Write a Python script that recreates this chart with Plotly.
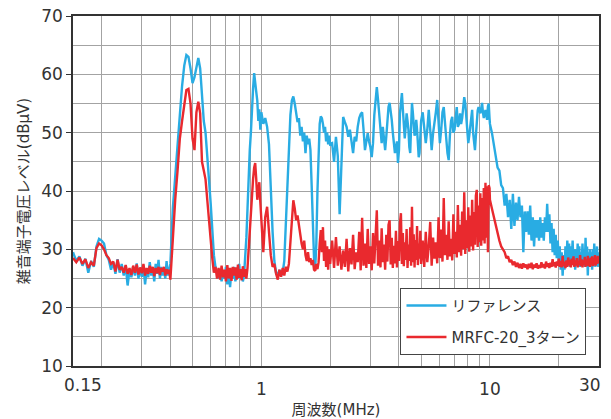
import math
import plotly.graph_objects as go

# ---------------- data (frequency in MHz, level in dBuV) ----------------
freq_a = [0.150, 0.155, 0.160, 0.165, 0.170, 0.175, 0.180, 0.185, 0.190, 0.195,
          0.200, 0.205, 0.210, 0.215, 0.220, 0.225, 0.230, 0.235, 0.240, 0.245,
          0.250, 0.255, 0.260, 0.265, 0.270, 0.275, 0.280, 0.285, 0.290, 0.295,
          0.300, 0.305, 0.310, 0.315, 0.320, 0.325, 0.330, 0.335, 0.340, 0.345,
          0.350, 0.355, 0.360, 0.365, 0.370, 0.375, 0.380, 0.385, 0.390, 0.395,
          0.400]
freq_b = [0.41, 0.42, 0.43, 0.44, 0.45, 0.46, 0.47, 0.48, 0.49, 0.50,
          0.51, 0.52, 0.53, 0.54, 0.55, 0.56, 0.57, 0.58, 0.59, 0.60,
          0.61, 0.62, 0.63, 0.64, 0.65, 0.66, 0.67, 0.68, 0.69, 0.70,
          0.71, 0.72, 0.73, 0.74, 0.75, 0.76, 0.77, 0.78, 0.79, 0.80,
          0.81, 0.82, 0.83, 0.84, 0.85, 0.86, 0.87, 0.88, 0.89, 0.90,
          0.91, 0.92, 0.93, 0.94, 0.95, 0.96, 0.97, 0.98, 0.99, 1.00]
freq_c = [1.02, 1.04, 1.06, 1.08, 1.10, 1.12, 1.14, 1.16, 1.18, 1.20,
          1.22, 1.24, 1.26, 1.28, 1.30, 1.32, 1.34, 1.36, 1.38, 1.40,
          1.42, 1.44, 1.46, 1.48, 1.50, 1.52, 1.54, 1.56, 1.58, 1.60,
          1.62, 1.64, 1.66, 1.68, 1.70, 1.72, 1.74, 1.76, 1.78, 1.80,
          1.82, 1.84, 1.86, 1.88, 1.90, 1.92, 1.94, 1.96, 1.98, 2.00]
freq_d = [2.04, 2.08, 2.12, 2.16, 2.20, 2.24, 2.28, 2.32, 2.36, 2.40,
          2.44, 2.48, 2.52, 2.56, 2.60, 2.64, 2.68, 2.72, 2.76, 2.80,
          2.84, 2.88, 2.92, 2.96, 3.00, 3.04, 3.08, 3.12, 3.16, 3.20,
          3.24, 3.28, 3.32, 3.36, 3.40, 3.44, 3.48, 3.52, 3.56, 3.60,
          3.64, 3.68, 3.72, 3.76, 3.80, 3.84, 3.88, 3.92, 3.96, 4.00,
          4.04, 4.08, 4.12, 4.16, 4.20, 4.24, 4.28, 4.32, 4.36, 4.40,
          4.44, 4.48, 4.52, 4.56, 4.60, 4.64, 4.68, 4.72, 4.76, 4.80,
          4.84, 4.88, 4.92, 4.96, 5.00]
freq_e = [5.08, 5.16, 5.24, 5.32, 5.40, 5.48, 5.56, 5.64, 5.72, 5.80,
          5.88, 5.96, 6.04, 6.12, 6.20, 6.28, 6.36, 6.44, 6.52, 6.60,
          6.68, 6.76, 6.84, 6.92, 7.00, 7.08, 7.16, 7.24, 7.32, 7.40,
          7.48, 7.56, 7.64, 7.72, 7.80, 7.88, 7.96, 8.04, 8.12, 8.20,
          8.28, 8.36, 8.44, 8.52, 8.60, 8.68, 8.76, 8.84, 8.92, 9.00,
          9.08, 9.16, 9.24, 9.32, 9.40, 9.48, 9.56, 9.64, 9.72, 9.80,
          9.88, 9.96, 10.0]
freq_f = [10.2, 10.4, 10.6, 10.8, 11.0, 11.2, 11.4, 11.6, 11.8, 12.0,
          12.2, 12.4, 12.6, 12.8, 13.0, 13.2, 13.4, 13.6, 13.8, 14.0,
          14.2, 14.4, 14.6, 14.8, 15.0, 15.2, 15.4, 15.6, 15.8, 16.0,
          16.2, 16.4, 16.6, 16.8, 17.0, 17.2, 17.4, 17.6, 17.8, 18.0,
          18.2, 18.4, 18.6, 18.8, 19.0, 19.2, 19.4, 19.6, 19.8, 20.0,
          20.2, 20.4, 20.6, 20.8, 21.0, 21.2, 21.4, 21.6, 21.8, 22.0,
          22.2, 22.4, 22.6, 22.8, 23.0, 23.2, 23.4, 23.6, 23.8, 24.0,
          24.2, 24.4, 24.6, 24.8, 25.0, 25.2, 25.4, 25.6, 25.8, 26.0,
          26.2, 26.4, 26.6, 26.8, 27.0, 27.2, 27.4, 27.6, 27.8, 28.0,
          28.2, 28.4, 28.6, 28.8, 29.0, 29.2, 29.4, 29.6, 29.8, 30.0]

# Reference (blue)
ref_a = [29.5, 28.0, 28.8, 27.2, 28.4, 26.0, 28.0, 27.0, 30.5, 31.8,
         31.5, 31.0, 29.0, 28.2, 26.5, 27.8, 25.8, 28.3, 26.0, 27.5,
         25.5, 27.2, 23.8, 26.5, 25.2, 27.0, 25.5, 27.6, 25.0, 26.8,
         25.3, 27.2, 24.0, 26.5, 25.2, 27.8, 25.5, 26.8, 24.5, 27.5,
         25.8, 28.2, 25.0, 27.0, 25.5, 26.8, 25.0, 28.0, 25.5, 26.8,
         27.5]
ref_b = [37, 43, 49, 53, 58, 61.5, 63.3, 63, 61, 58.5,
         59.5, 61, 62.8, 61, 57, 52, 50, 46.5, 42, 38,
         33, 29, 27, 26, 25, 26.5, 24.5, 26, 25, 27,
         24, 26, 23.5, 26.5, 25, 27, 24.5, 26, 25, 27.5,
         25, 26, 24.5, 25.5, 28.5, 32, 37, 43, 47, 50,
         54.5, 57.5, 60.2, 59, 57, 55.5, 52, 54, 50.5, 53.5]
ref_c = [51.5, 52.5, 51, 48, 40, 33, 28, 26, 25.5, 26.5,
         25.5, 26, 28, 34, 41, 48, 53, 55.5, 56.2, 55,
         52.8, 51.8, 52.5, 49.5, 51, 48.5, 50, 46.5, 49.5, 48,
         49, 47, 41, 34, 28.5, 26.5, 31, 40, 47, 51.5,
         52.8, 52.5, 51.5, 50, 51, 48.5, 50, 48, 49.5, 48]
ref_d = [48.2, 45, 49.3, 46, 36, 44, 52.7, 51.8, 51, 49.3,
         50.5, 48.5, 46.5, 49.3, 48.5, 51, 52.5, 53.2, 53.5, 50.5,
         47, 48.5, 49.9, 48.5, 47.5, 45.8, 48.2, 53, 56, 57.8,
         55.6, 53.5, 51.5, 48.2, 51, 48.5, 47, 49.3, 52, 54.4,
         55.1, 54, 52.2, 50, 48.7, 46.5, 47.5, 48.5, 44.8, 47,
         53.3, 55.5, 56.8, 54, 51, 49, 51, 53.3, 52, 50.5,
         47.5, 46.5, 51, 55.1, 53.5, 51.5, 49.5, 50, 52.2, 50.5,
         47, 45.8, 46.5, 48.5, 52]
ref_e = [53.5, 50.5, 48.2, 50.5, 53.9, 50.5, 47, 49.9, 51.5, 53.5,
         55.6, 52.5, 48.2, 50.5, 53.5, 54.4, 51, 49, 46.5, 45.3,
         49.5, 52, 52.7, 50, 50.5, 52.5, 54.4, 51, 51.5, 53.3,
         51.5, 52.5, 55, 56.1, 55, 52.5, 50, 48.2, 49.5, 51,
         53, 53.9, 50, 48.2, 47, 49.5, 52.2, 53.8, 54.4, 53.8,
         53.3, 54.2, 55.1, 53.5, 52.5, 53.2, 53.9, 53, 52.2, 54.5,
         55, 52.5, 51.5]
ref_f = [50, 48, 46.5, 44, 43.5, 41, 40.5, 37.5, 39.5, 35.5,
         38.5, 33.5, 39.5, 34, 38, 35, 39, 35.5, 37.5, 29.5,
         36.5, 33, 36.5, 32.5, 37.5, 31.5, 35.5, 30.5, 35, 32,
         35, 31.5, 35.5, 32, 34.5, 31.5, 35.5, 33, 37.8, 33,
         36, 31, 34.5, 29.5, 33.5, 29, 32.5, 28.5, 31.5, 28,
         30.5, 26.5, 29.5, 25.5, 29, 26.5, 30.5, 27, 31.5, 27.5,
         31, 27, 30.5, 28, 31.5, 27.5, 30, 26.5, 30, 27.5,
         31, 28, 30.5, 27, 29.5, 27.5, 31, 28, 30, 27,
         32, 28, 30.5, 25.5, 29.5, 27.5, 30, 27, 29.5, 26.5,
         30, 27.5, 31, 27, 29.5, 27.5, 30.5, 27, 29.5, 28.5]

# MRFC-20_3 turns (red)
mrfc_a = [28.5, 27.8, 28.6, 27.5, 28.3, 26.8, 27.8, 27.2, 30.2, 31.0,
          30.7, 30.0, 29.0, 28.5, 27.5, 27.9, 26.2, 28.2, 26.5, 27.0,
          26.0, 27.3, 25.8, 26.8, 25.6, 27.2, 26.0, 27.4, 25.7, 26.9,
          25.9, 27.5, 25.5, 26.8, 25.8, 27.2, 26.0, 27.0, 25.4, 26.8,
          25.9, 27.0, 25.6, 26.8, 26.2, 27.0, 25.5, 26.6, 25.8, 26.5,
          24.8]
mrfc_b = [32.5, 38.5, 43.5, 49, 52, 54.5, 57.3, 57.5, 55, 49,
          47, 53.5, 55.3, 53.3, 45, 43.5, 42, 38.5, 35, 31,
          28.5, 26, 27, 25, 26.8, 24.8, 27.2, 25.2, 26.5, 24.5,
          27.3, 25, 26.8, 24.6, 27, 25.5, 26.9, 24.8, 27.4, 25.1,
          26.6, 24.7, 27.1, 25.3, 26.6, 25, 26.8, 30, 33.5, 37,
          40.5, 42, 44, 44.8, 42, 38.5, 40, 41.5, 38, 35]
mrfc_c = [29.5, 35.5, 37.3, 33, 29, 27, 27.5, 25.8, 24.8, 26.5,
          25.3, 26.8, 25.5, 27, 26.2, 27.5, 31, 35.5, 38.4, 37,
          35, 35.8, 34, 32.5, 31, 30, 31.5, 29, 28, 29.5,
          27.8, 28.5, 27.3, 28.2, 26.5, 26.3, 27.5, 26.6, 27.8, 31,
          33.3, 29.5, 33.8, 28, 31.5, 27, 30.5, 26.5, 30, 27.5]
mrfc_d = [31.5, 26.8, 32.1, 27.2, 30.5, 26.5, 29.8, 27, 31.8, 26.2,
          30.2, 27.4, 32.5, 26.6, 29.5, 27.8, 33, 26.4, 35.4, 27.2,
          31, 26.8, 33.5, 27.5, 30.5, 26.4, 32.8, 27.6, 34, 36.7,
          27.2, 31.5, 26.9, 33.6, 27.8, 30.8, 26.5, 32.5, 27.9, 34.2,
          35, 27.4, 32, 26.8, 30.6, 27.6, 33.2, 26.9, 31.4, 28,
          34.5, 36.2, 27.5, 32.8, 27.1, 31.2, 28.2, 33.5, 26.8, 30.8,
          28, 33.8, 27.2, 37.3, 27.8, 32.6, 26.9, 31.6, 28.2, 34,
          27.3, 31, 28.4, 33.2, 27.5]
mrfc_e = [31.5, 27, 33, 27.8, 30.5, 34.7, 27.2, 32, 28.4, 31.2,
          27.6, 35.5, 28.5, 33.4, 27.9, 38.8, 29, 32.5, 28.2, 34.8,
          28.8, 31.8, 28.1, 36, 29.2, 33, 28.6, 37.6, 29.5, 34.2,
          28.9, 36.5, 30, 39.8, 29.2, 35, 30.2, 37.2, 29.6, 35.8,
          30.5, 38.5, 29.8, 36.4, 30.8, 39.2, 40.2, 30.4, 37.5, 31.2,
          39.6, 30.6, 38.8, 31.5, 40.5, 31, 41.4, 32, 40.8, 29.5,
          41, 40.5, 38.5]
mrfc_f = [37, 35.5, 34.5, 33, 31.5, 30.5, 30, 29.5, 28.5, 28.8,
          27.8, 28.2, 27.3, 27.9, 27, 27.7, 26.8, 27.5, 26.7, 27.6,
          26.9, 27.4, 26.6, 27.5, 26.8, 27.7, 26.6, 27.4, 26.9, 27.6,
          26.7, 27.3, 26.8, 27.8, 26.9, 27.5, 26.7, 27.9, 27, 27.6,
          26.8, 27.7, 27, 28.3, 27.1, 27.8, 26.9, 27.9, 27.2, 28.4,
          27, 28, 26.9, 28.9, 27.1, 27.9, 26.8, 28.1, 27, 28.6,
          27.2, 28.2, 26.9, 28.4, 27.3, 28.8, 27, 28.1, 27.2, 28.5,
          26.9, 28, 27.3, 29, 27.1, 28.3, 26.9, 28.1, 27.4, 28.7,
          27, 28.3, 27.2, 28.9, 27.1, 28.4, 27, 28.6, 27.3, 28.8,
          27.1, 28.5, 27.4, 29, 27.2, 28.6, 27.5, 28.9, 27.6, 28.2]

x_tick_vals = [1, 10]
x_tick_text = ["1", "10"]
x_edge_vals = [0.15, 30]
x_edge_text = ["0.15", "30"]
x_minor_vals = [0.2, 0.3, 0.4, 0.5, 0.6, 0.7, 0.8, 0.9,
                2, 3, 4, 5, 6, 7, 8, 9, 20]
y_tick_vals = [10, 20, 30, 40, 50, 60, 70]

series_names = ["リファレンス", "MRFC-20_3ターン"]
series_colors = ["#29ACE3", "#E9292E"]

freq = freq_a + freq_b + freq_c + freq_d + freq_e + freq_f
ref = ref_a + ref_b + ref_c + ref_d + ref_e + ref_f
mrfc = mrfc_a + mrfc_b + mrfc_c + mrfc_d + mrfc_e + mrfc_f

FONT = "DejaVu Sans, Noto Sans CJK JP, sans-serif"
GRID = "#a3a3a3"
AXIS = "#333333"
TXT = "#333333"

fig = go.Figure()
for name, col, ys, grp in [(series_names[0], series_colors[0], ref, "a"),
                           (series_names[1], series_colors[1], mrfc, "b")]:
    fig.add_trace(go.Scatter(x=freq, y=ys, mode="lines", name=name,
                             legendgroup=grp,
                             line=dict(color=col, width=2.4)))

# end labels of the frequency axis sit inward of the frame, as in the reference
for v, t, anchor, shift in [(x_edge_vals[0], x_edge_text[0], "left", -11),
                            (x_edge_vals[1], x_edge_text[1], "right", 4)]:
    fig.add_annotation(x=math.log10(v), xref="x", y=0, yref="paper",
                       text=t, showarrow=False, xanchor=anchor, yanchor="middle",
                       xshift=shift, yshift=-19,
                       font=dict(size=17, family=FONT, color=TXT))

fig.update_layout(
    width=611, height=419,
    margin=dict(l=73, r=12, t=16, b=53, autoexpand=False),
    paper_bgcolor="white", plot_bgcolor="white",
    font=dict(family=FONT, color=TXT),
    showlegend=True,
    legend=dict(x=0.622, y=0.223, xanchor="left", yanchor="top",
                bgcolor="white", bordercolor="#444444", borderwidth=1.3,
                font=dict(size=15, family=FONT, color=TXT),
                tracegroupgap=9, itemwidth=40),
)
fig.update_xaxes(
    type="log", range=[math.log10(0.15), math.log10(30)],
    automargin=False,
    tickvals=x_tick_vals, ticktext=x_tick_text,
    tickfont=dict(size=17, family=FONT, color=TXT),
    ticks="outside", ticklen=7, tickcolor="rgba(0,0,0,0)",
    showgrid=True, gridcolor=GRID, gridwidth=1.2,
    minor=dict(tickvals=x_minor_vals, showgrid=True, gridcolor=GRID,
               gridwidth=1.2, ticks=""),
    showline=True, mirror=True, linecolor=AXIS, linewidth=1.6,
    zeroline=False,
    title=dict(text="周波数(MHz)", font=dict(size=15, family=FONT, color=TXT),
               standoff=11),
)
fig.update_yaxes(
    range=[10, 70], tickvals=y_tick_vals, automargin=False,
    tickfont=dict(size=17, family=FONT, color=TXT),
    ticks="outside", ticklen=5, tickcolor=AXIS, tickwidth=1.3,
    showgrid=True, gridcolor=GRID, gridwidth=1.2,
    minor=dict(dtick=5, showgrid=True, gridcolor=GRID, gridwidth=1.2, ticks=""),
    showline=True, mirror=True, linecolor=AXIS, linewidth=1.6,
    zeroline=False,
    title=dict(text="雑音端子電圧レベル(dBμV)",
               font=dict(size=15, family=FONT, color=TXT), standoff=8),
)

# remove the browser's default 8px page margin so the figure fills the window
fig.write_html("out.html",
               config={"displayModeBar": False},
               post_script="document.body.style.margin='0';"
                           "document.body.style.padding='0';")
